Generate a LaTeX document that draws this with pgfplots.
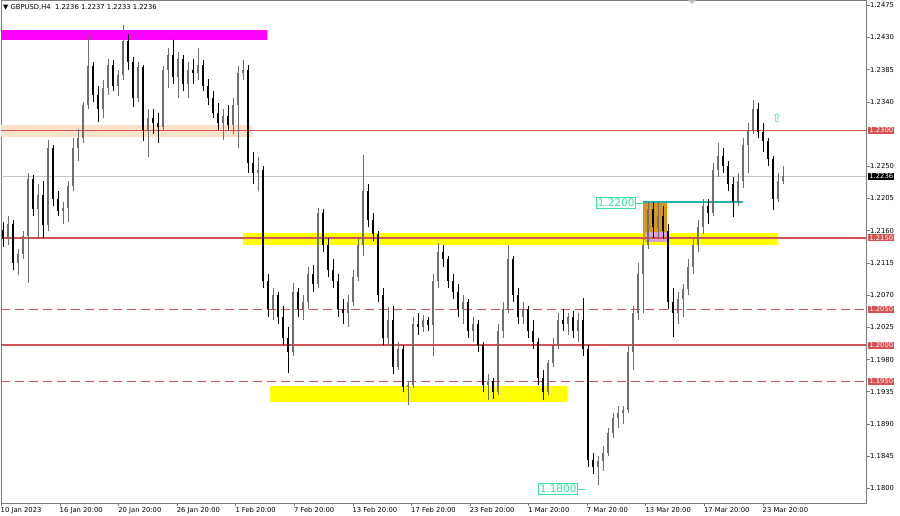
\documentclass[border=0pt]{standalone}
\usepackage{pgfplots}
\pgfplotsset{compat=1.18}
\usepackage{pgfplotstable}
\usepackage{fontspec}
\setmainfont{DejaVu Sans}

\definecolor{lvl}{RGB}{212,82,82}
\definecolor{bullc}{RGB}{110,110,110}
\definecolor{zone}{RGB}{255,255,0}
\definecolor{band}{RGB}{250,226,200}
\definecolor{mag}{RGB}{255,0,255}
\definecolor{obox}{RGB}{215,150,30}
\definecolor{pinkz}{RGB}{215,160,215}
\definecolor{mint}{RGB}{60,225,165}
\definecolor{tealz}{RGB}{30,180,170}
\definecolor{frame}{RGB}{125,125,125}

% GBPUSD H4, x = horizontal position on the chart, one row per two bars
\pgfplotstableread{
x o h l c
3 1.2161 1.2172 1.2137 1.2148
8 1.2148 1.2180 1.2140 1.2170
13 1.2170 1.2175 1.2105 1.2115
18 1.2115 1.2135 1.2098 1.2128
23 1.2128 1.2160 1.2120 1.2152
28 1.2152 1.2241 1.2087 1.2232
33 1.2232 1.2238 1.2180 1.2190
38 1.2190 1.2225 1.2150 1.2210
43 1.2210 1.2230 1.2150 1.2168
48 1.2168 1.2287 1.2160 1.2275
53 1.2275 1.2280 1.2195 1.2205
58 1.2205 1.2215 1.2180 1.2188
63 1.2188 1.2200 1.2170 1.2192
68 1.2192 1.2230 1.2172 1.2222
73 1.2222 1.2290 1.2215 1.2275
78 1.2275 1.2302 1.2258 1.2290
83 1.2290 1.2340 1.2283 1.2335
88 1.2335 1.2433 1.2330 1.2390
93 1.2390 1.2395 1.2340 1.2350
98 1.2350 1.2362 1.2312 1.2330
103 1.2330 1.2370 1.2318 1.2360
108 1.2360 1.2400 1.2350 1.2392
113 1.2392 1.2398 1.2355 1.2362
118 1.2362 1.2385 1.2348 1.2378
123 1.2378 1.2447 1.2370 1.2425
128 1.2425 1.2435 1.2385 1.2395
133 1.2395 1.2402 1.2333 1.2345
138 1.2345 1.2395 1.2340 1.2388
143 1.2388 1.2392 1.2285 1.2300
148 1.2300 1.2330 1.2263 1.2318
153 1.2318 1.2330 1.2295 1.2310
158 1.2310 1.2325 1.2283 1.2305
163 1.2305 1.2390 1.2300 1.2385
168 1.2385 1.2415 1.2360 1.2405
173 1.2405 1.2430 1.2365 1.2375
178 1.2375 1.2410 1.2345 1.2400
183 1.2400 1.2405 1.2355 1.2365
188 1.2365 1.2395 1.2345 1.2385
193 1.2385 1.2400 1.2365 1.2380
198 1.2380 1.2415 1.2370 1.2392
203 1.2392 1.2398 1.2355 1.2362
208 1.2362 1.2372 1.2335 1.2345
213 1.2345 1.2355 1.2318 1.2325
218 1.2325 1.2338 1.2300 1.2310
223 1.2310 1.2330 1.2287 1.2320
228 1.2320 1.2335 1.2300 1.2308
233 1.2308 1.2345 1.2295 1.2335
238 1.2335 1.2390 1.2275 1.2380
243 1.2380 1.2398 1.2370 1.2385
248 1.2385 1.2392 1.2240 1.2255
253 1.2255 1.2270 1.2225 1.2240
258 1.2240 1.2263 1.2215 1.2245
263 1.2245 1.2250 1.2080 1.2090
268 1.2090 1.2100 1.2040 1.2050
273 1.2050 1.2080 1.2035 1.2070
278 1.2070 1.2075 1.2030 1.2040
283 1.2040 1.2055 1.2000 1.2010
288 1.2010 1.2025 1.1962 1.1990
293 1.1990 1.2087 1.1985 1.2075
298 1.2075 1.2080 1.2040 1.2050
303 1.2050 1.2070 1.2035 1.2060
308 1.2060 1.2110 1.2050 1.2100
313 1.2100 1.2112 1.2075 1.2085
318 1.2085 1.2192 1.2080 1.2185
323 1.2185 1.2190 1.2130 1.2140
328 1.2140 1.2150 1.2095 1.2105
333 1.2105 1.2120 1.2080 1.2090
338 1.2090 1.2100 1.2040 1.2050
343 1.2050 1.2065 1.2030 1.2045
348 1.2045 1.2070 1.2025 1.2060
353 1.2060 1.2105 1.2055 1.2095
358 1.2095 1.2150 1.2090 1.2140
363 1.2140 1.2266 1.2125 1.2215
368 1.2215 1.2225 1.2165 1.2175
373 1.2175 1.2185 1.2145 1.2155
378 1.2155 1.2160 1.2060 1.2070
383 1.2070 1.2080 1.2000 1.2010
388 1.2010 1.2053 1.2000 1.2035
393 1.2035 1.2055 1.1960 1.1970
398 1.1970 1.2005 1.1965 1.1995
403 1.1995 1.2000 1.1935 1.1942
408 1.1942 1.1950 1.1917 1.1945
413 1.1945 1.2040 1.1940 1.2030
418 1.2030 1.2045 1.2015 1.2025
423 1.2025 1.2042 1.2018 1.2035
428 1.2035 1.2040 1.2020 1.2028
433 1.2028 1.2100 1.1985 1.2090
438 1.2090 1.2143 1.2080 1.2130
443 1.2130 1.2140 1.2110 1.2120
448 1.2120 1.2125 1.2080 1.2090
453 1.2090 1.2100 1.2065 1.2075
458 1.2075 1.2085 1.2040 1.2050
463 1.2050 1.2070 1.2030 1.2060
468 1.2060 1.2065 1.2010 1.2020
473 1.2020 1.2040 1.2005 1.2030
478 1.2030 1.2035 1.1990 1.2000
483 1.2000 1.2005 1.1935 1.1945
488 1.1945 1.1960 1.1923 1.1950
493 1.1950 1.1955 1.1925 1.1935
498 1.1935 1.2030 1.1930 1.2020
503 1.2020 1.2060 1.2010 1.2050
508 1.2050 1.2140 1.2045 1.2120
513 1.2120 1.2125 1.2060 1.2070
518 1.2070 1.2080 1.2030 1.2040
523 1.2040 1.2060 1.2030 1.2050
528 1.2050 1.2055 1.2010 1.2020
533 1.2020 1.2035 1.1995 1.2005
538 1.2005 1.2010 1.1945 1.1955
543 1.1955 1.1965 1.1923 1.1935
548 1.1935 1.1980 1.1930 1.1975
553 1.1975 1.2010 1.1970 1.2000
558 1.2000 1.2045 1.1995 1.2035
563 1.2035 1.2050 1.2020 1.2030
568 1.2030 1.2045 1.2015 1.2040
573 1.2040 1.2048 1.2010 1.2020
578 1.2020 1.2045 1.2005 1.2035
583 1.2035 1.2066 1.1985 1.1995
588 1.1995 1.2000 1.1830 1.1840
593 1.1840 1.1850 1.1820 1.1830
598 1.1830 1.1845 1.1805 1.1838
603 1.1838 1.1860 1.1825 1.1850
608 1.1850 1.1885 1.1845 1.1878
613 1.1878 1.1905 1.1870 1.1898
618 1.1898 1.1915 1.1885 1.1905
623 1.1905 1.1915 1.1890 1.1910
628 1.1910 1.2000 1.1905 1.1990
633 1.1990 1.2055 1.1965 1.2045
638 1.2045 1.2115 1.2035 1.2100
643 1.2100 1.2150 1.2045 1.2140
648 1.2140 1.2200 1.2135 1.2190
653 1.2190 1.2200 1.2150 1.2165
658 1.2165 1.2200 1.2150 1.2180
663 1.2180 1.2195 1.2148 1.2160
668 1.2160 1.2170 1.2050 1.2060
673 1.2060 1.2080 1.2012 1.2045
678 1.2045 1.2075 1.2030 1.2065
683 1.2065 1.2085 1.2040 1.2078
688 1.2078 1.2120 1.2070 1.2110
693 1.2110 1.2150 1.2100 1.2140
698 1.2140 1.2175 1.2130 1.2165
703 1.2165 1.2205 1.2155 1.2195
708 1.2195 1.2205 1.2170 1.2185
713 1.2185 1.2255 1.2180 1.2245
718 1.2245 1.2282 1.2235 1.2265
723 1.2265 1.2275 1.2240 1.2250
728 1.2250 1.2258 1.2215 1.2225
733 1.2225 1.2235 1.2179 1.2200
738 1.2200 1.2240 1.2195 1.2230
743 1.2230 1.2290 1.2220 1.2280
748 1.2280 1.2310 1.2240 1.2300
753 1.2300 1.2343 1.2295 1.2330
758 1.2330 1.2338 1.2290 1.2298
763 1.2298 1.2310 1.2270 1.2285
768 1.2285 1.2290 1.2250 1.2260
773 1.2260 1.2265 1.2189 1.2205
778 1.2205 1.2240 1.2200 1.2230
783 1.2230 1.2250 1.2225 1.2236
}\candles

\begin{document}
\begin{tikzpicture}
\begin{axis}[
  scale only axis, width=865pt, height=503pt,
  xmin=1, xmax=866, ymin=1.177975, ymax=1.248226,
  clip=false,
  axis line style={frame, line width=0.8pt},
  tick align=outside, major tick length=3.5pt,
  tick style={frame, line width=0.7pt},
  xtick pos=left, xticklabel pos=left,
  ytick pos=right, yticklabel pos=right,
  xtick={1,60,118.6,177.2,235.8,294.3,352.9,411.5,470.1,528.6,587.2,645.8,704.4,763.0},
  xticklabels={10 Jan 2023,16 Jan 20:00,20 Jan 20:00,26 Jan 20:00,1 Feb 20:00,7 Feb 20:00,13 Feb 20:00,17 Feb 20:00,23 Feb 20:00,1 Mar 20:00,7 Mar 20:00,13 Mar 20:00,17 Mar 20:00,23 Mar 20:00},
  xticklabel style={anchor=north west, inner sep=0pt, xshift=-0.5pt, yshift=-0.5pt, font=\fontsize{6.8}{8}\selectfont},
  ytick={1.1800,1.1845,1.1890,1.1935,1.1980,1.2025,1.2070,1.2115,1.2160,1.2205,1.2250,1.2340,1.2385,1.2430,1.2475},
  yticklabels={1.1800,1.1845,1.1890,1.1935,1.1980,1.2025,1.2070,1.2115,1.2160,1.2205,1.2250,1.2340,1.2385,1.2430,1.2475},
  yticklabel style={anchor=west, inner sep=0pt, xshift=0.5pt, font=\fontsize{6.8}{8}\selectfont},
  candle/.style={mark=none, restrict y to domain=1:2},
]
% zones
\fill[mag] (axis cs:1,1.2426) rectangle (axis cs:267,1.2441);
\fill[band] (axis cs:1,1.2291) rectangle (axis cs:252,1.2308);
\fill[zone] (axis cs:243,1.2140) rectangle (axis cs:777,1.2157);
\fill[zone] (axis cs:270,1.1921) rectangle (axis cs:567,1.1943);
\fill[obox] (axis cs:643,1.2147) rectangle (axis cs:667,1.2199);
\fill[pinkz] (axis cs:645,1.2144) rectangle (axis cs:667,1.2158);

% levels
\addplot[gray!45, line width=0.5pt] coordinates {(1,1.2236) (866,1.2236)};
\addplot[lvl, line width=1.8pt] coordinates {(1,1.2300) (866,1.2300)};
\addplot[lvl, line width=1.8pt] coordinates {(1,1.2150) (866,1.2150)};
\addplot[lvl, line width=1.8pt] coordinates {(1,1.2000) (866,1.2000)};
\addplot[lvl, line width=1.1pt, dash pattern=on 9pt off 5pt] coordinates {(1,1.2050) (866,1.2050)};
\addplot[lvl, line width=1.1pt, dash pattern=on 9pt off 5pt] coordinates {(1,1.1950) (866,1.1950)};
\addplot[tealz, line width=1.6pt] coordinates {(643,1.2200) (743,1.2200)};

% candles: wicks then bodies, rising ones grey, falling ones black
\addplot[candle, bullc, line width=0.9pt, quiver={u=0, v={\thisrow{h}-\thisrow{l}}}]
  table[x=x, y expr={\thisrow{c}>=\thisrow{o} ? \thisrow{l} : 0}] {\candles};
\addplot[candle, black, line width=0.9pt, quiver={u=0, v={\thisrow{h}-\thisrow{l}}}]
  table[x=x, y expr={\thisrow{c}<\thisrow{o} ? \thisrow{l} : 0}] {\candles};
\addplot[candle, bullc, line width=2.8pt, quiver={u=0, v={max(\thisrow{c}-\thisrow{o},0.00012)}}]
  table[x=x, y expr={\thisrow{c}>=\thisrow{o} ? \thisrow{o} : 0}] {\candles};
\addplot[candle, black, line width=2.8pt, quiver={u=0, v={max(\thisrow{o}-\thisrow{c},0.00012)}}]
  table[x=x, y expr={\thisrow{c}<\thisrow{o} ? \thisrow{c} : 0}] {\candles};

% annotations
\node[draw=mint, text=mint, fill=white, line width=0.6pt, inner xsep=1.2pt, inner ysep=1.5pt,
  anchor=east, font=\fontsize{10.5}{11}\selectfont] at (axis cs:636,1.2199) {1.2200};
\draw[mint, line width=0.6pt] (axis cs:636,1.2199) -- (axis cs:643,1.2199);
\node[draw=mint, text=mint, fill=white, line width=0.6pt, inner xsep=1.2pt, inner ysep=1.5pt,
  anchor=east, font=\fontsize{10.5}{11}\selectfont] at (axis cs:578,1.17994) {1.1800};
\draw[mint, line width=0.6pt] (axis cs:578,1.17994) -- (axis cs:585,1.17994);
\node[text=mint, font=\fontsize{12}{12}\selectfont, inner sep=0pt] at (axis cs:777,1.2317) {⇧};
\fill[gray!55] (axis cs:688,1.248226) -- (axis cs:696,1.248226) -- ([yshift=-4pt]axis cs:692,1.248226) -- cycle;
\node[anchor=west, inner sep=0pt, font=\fontsize{6.8}{8}\selectfont] at (axis cs:3,1.24725) {▼\ GBPUSD,H4\ \ 1.2236 1.2237 1.2233 1.2236};

% price labels on the scale
\node[fill=lvl, text=white, anchor=west, xshift=2pt, inner xsep=1.2pt, inner ysep=1pt, font=\fontsize{6.8}{8}\selectfont] at (axis cs:866,1.2300) {1.2300};
\node[fill=lvl, text=white, anchor=west, xshift=2pt, inner xsep=1.2pt, inner ysep=1pt, font=\fontsize{6.8}{8}\selectfont] at (axis cs:866,1.2150) {1.2150};
\node[fill=lvl, text=white, anchor=west, xshift=2pt, inner xsep=1.2pt, inner ysep=1pt, font=\fontsize{6.8}{8}\selectfont] at (axis cs:866,1.2050) {1.2050};
\node[fill=lvl, text=white, anchor=west, xshift=2pt, inner xsep=1.2pt, inner ysep=1pt, font=\fontsize{6.8}{8}\selectfont] at (axis cs:866,1.2000) {1.2000};
\node[fill=lvl, text=white, anchor=west, xshift=2pt, inner xsep=1.2pt, inner ysep=1pt, font=\fontsize{6.8}{8}\selectfont] at (axis cs:866,1.1950) {1.1950};
\node[fill=black, text=white, anchor=west, xshift=2pt, inner xsep=1.2pt, inner ysep=1pt, font=\fontsize{6.8}{8}\selectfont] at (axis cs:866,1.2236) {1.2236};
\end{axis}
\pgfresetboundingbox
\path[use as bounding box] (-1pt,-13pt) rectangle (899pt,503pt);
\end{tikzpicture}
\end{document}
